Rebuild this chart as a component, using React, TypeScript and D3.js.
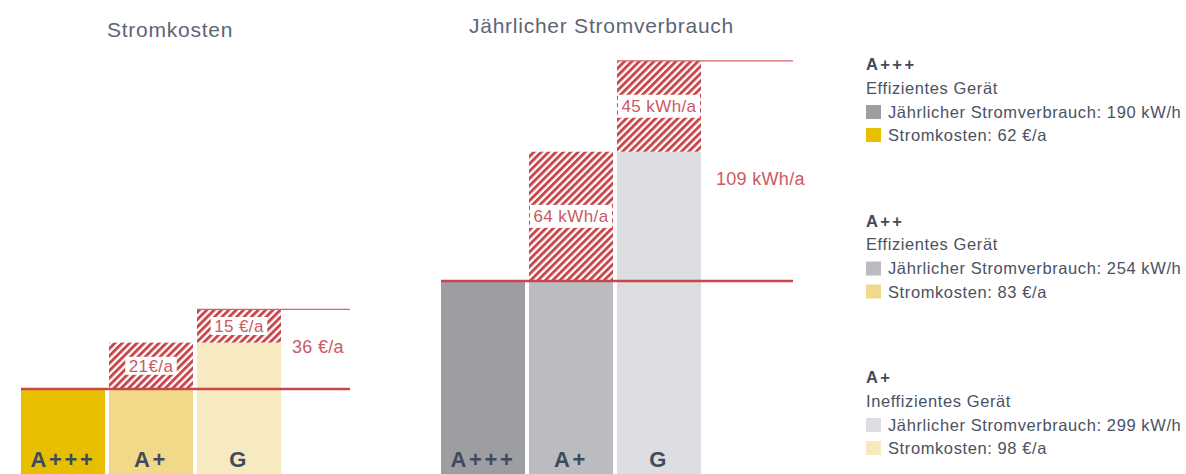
import * as d3 from 'd3';
import React from 'react';

const classes = ['A+++', 'A+', 'G'];
const costValues = [62, 83, 98];
const costDiffLabels = ['21€/a', '15 €/a'];
const costTotalLabel = '36 €/a';
const consumptionValues = [190, 254, 299];
const consumptionDiffLabels = ['64 kWh/a', '45 kWh/a'];
const consumptionTotalLabel = '109 kWh/a';

const legendClasses = ['A+++', 'A++', 'A+'];
const legendSubtitles = ['Effizientes Gerät', 'Effizientes Gerät', 'Ineffizientes Gerät'];
const legendConsumption = [190, 254, 299];
const legendCosts = [62, 83, 98];

const costColors = ['#e8bf00', '#f2d98a', '#f7eac0'];
const consumptionColors = ['#9d9ea2', '#bbbcc0', '#dcdde0'];

const W = 1186;
const H = 474;
const RED = '#c8474c';
const LABEL_RED = '#cc5a5e';
const DARK = '#3f4a5c';
const FONT = '"Liberation Sans", Arial, sans-serif';

let canvasCtx: CanvasRenderingContext2D | null = null;
function textWidth(text: string, font: string, spacing = 0) {
  if (!canvasCtx) canvasCtx = document.createElement('canvas').getContext('2d');
  if (!canvasCtx) return text.length * 8;
  canvasCtx.font = font;
  return canvasCtx.measureText(text).width + spacing * text.length;
}

interface ChartProps {
  id: string;
  title: string;
  titleX: number;
  titleY: number;
  values: number[];
  diffLabels: string[];
  totalLabel: string;
  totalDx: number;
  totalDy: number;
  colors: string[];
  xRange: [number, number];
  lineEnd: number;
  base: number;
  pxPerUnit: number;
  boxPad: number;
  boxH: number;
}

const Chart = (p: ChartProps) => {
  const x = d3.scaleBand<string>().domain(classes).range(p.xRange).paddingInner(0.045).paddingOuter(0);
  const v0 = p.values[0];
  const vMax = d3.max(p.values) as number;
  const y = d3
    .scaleLinear()
    .domain([v0, vMax])
    .range([p.base, p.base - (vMax - v0) * p.pxPerUnit]);
  const bw = x.bandwidth();
  const labelSize = 17;
  const labelSpacing = 0.4;

  return (
    <g>
      <text x={p.titleX} y={p.titleY} fontSize={21} fill="#5d6574" fontFamily={FONT} letterSpacing={0.75}>
        {p.title}
      </text>
      {classes.map((c, i) => {
        const solidTop = i === 0 ? y(v0) : y(p.values[i - 1]);
        return (
          <g key={c}>
            <rect x={x(c)} y={solidTop} width={bw} height={H + 10 - solidTop} fill={p.colors[i]} />
            {i > 0 && (
              <rect
                x={x(c)}
                y={y(p.values[i])}
                width={bw}
                height={y(p.values[i - 1]) - y(p.values[i])}
                fill={`url(#hatch-${p.id})`}
              />
            )}
            <text
              x={(x(c) as number) + bw / 2}
              y={467}
              textAnchor="middle"
              fontSize={22}
              fontWeight="bold"
              fill={DARK}
              fontFamily={FONT}
              letterSpacing={2.6}
            >
              {c}
            </text>
          </g>
        );
      })}
      {p.diffLabels.map((lab, j) => {
        const i = j + 1;
        const c = classes[i];
        const cy = (y(p.values[i]) + y(p.values[i - 1])) / 2;
        const tw = textWidth(lab, `${labelSize}px ${FONT}`, labelSpacing);
        const boxW = Math.min(bw - 2, tw + p.boxPad);
        const cx = (x(c) as number) + bw / 2;
        return (
          <g key={lab}>
            <rect x={cx - boxW / 2} y={cy - p.boxH / 2} width={boxW} height={p.boxH} fill="#fff" />
            <text
              x={cx}
              y={cy}
              dy="0.36em"
              textAnchor="middle"
              fontSize={labelSize}
              fill={LABEL_RED}
              fontFamily={FONT}
              letterSpacing={labelSpacing}
            >
              {lab}
            </text>
          </g>
        );
      })}
      <line x1={p.xRange[0]} x2={p.lineEnd} y1={y(v0)} y2={y(v0)} stroke={RED} strokeWidth={2.5} />
      <line
        x1={x(classes[classes.length - 1])}
        x2={p.lineEnd}
        y1={y(vMax)}
        y2={y(vMax)}
        stroke="#d4676b"
        strokeWidth={1.2}
      />
      <text
        x={p.xRange[1] + p.totalDx}
        y={y(p.values[p.values.length - 2]) + p.totalDy}
        dy="0.36em"
        fontSize={18}
        fill={LABEL_RED}
        fontFamily={FONT}
        letterSpacing={0.3}
      >
        {p.totalLabel}
      </text>
    </g>
  );
};

const Legend = () => {
  const gy = d3.scaleLinear().domain([0, 2]).range([70, 383]);
  const font = { fontFamily: FONT, fontSize: 16.5, letterSpacing: 0.6 };
  return (
    <g>
      {legendClasses.map((c, i) => {
        const b = gy(i);
        return (
          <g key={c}>
            <text x={866} y={b} fontSize={16.5} fontWeight="bold" fill={DARK} fontFamily={FONT} letterSpacing={2.4}>
              {c}
            </text>
            <text x={866} y={b + 23.5} fill="#4a5262" {...font}>
              {legendSubtitles[i]}
            </text>
            <rect x={866} y={b + 35} width={15} height={14} fill={consumptionColors[i]} />
            <text x={888} y={b + 47.5} fill="#4a5262" {...font}>
              {`Jährlicher Stromverbrauch: ${legendConsumption[i]} kW/h`}
            </text>
            <rect x={866} y={b + 58} width={15} height={14} fill={costColors[i]} />
            <text x={888} y={b + 71} fill="#4a5262" {...font}>
              {`Stromkosten: ${legendCosts[i]} €/a`}
            </text>
          </g>
        );
      })}
    </g>
  );
};

export default function App() {
  return (
    <svg
      width={W}
      height={H}
      style={{ position: 'absolute', left: 0, top: 0, background: '#fff' }}
    >
      <defs>
        {['cost', 'cons'].map(id => (
          <pattern
            key={id}
            id={`hatch-${id}`}
            patternUnits="userSpaceOnUse"
            width={5.2}
            height={10}
            patternTransform="rotate(45)"
          >
            <rect width={5.2} height={10} fill="#fff" />
            <rect width={2.9} height={10} fill={RED} />
          </pattern>
        ))}
      </defs>
      <Chart
        id="cost"
        title="Stromkosten"
        titleX={107}
        titleY={37}
        values={costValues}
        diffLabels={costDiffLabels}
        totalLabel={costTotalLabel}
        totalDx={11}
        totalDy={4}
        colors={costColors}
        xRange={[21, 281]}
        lineEnd={350}
        base={389}
        pxPerUnit={2.21}
        boxPad={7}
        boxH={18}
      />
      <Chart
        id="cons"
        title="Jährlicher Stromverbrauch"
        titleX={469}
        titleY={33}
        values={consumptionValues}
        diffLabels={consumptionDiffLabels}
        totalLabel={consumptionTotalLabel}
        totalDx={15}
        totalDy={27}
        colors={consumptionColors}
        xRange={[441, 701]}
        lineEnd={793}
        base={281}
        pxPerUnit={2.02}
        boxPad={20}
        boxH={23}
      />
      <Legend />
    </svg>
  );
}
